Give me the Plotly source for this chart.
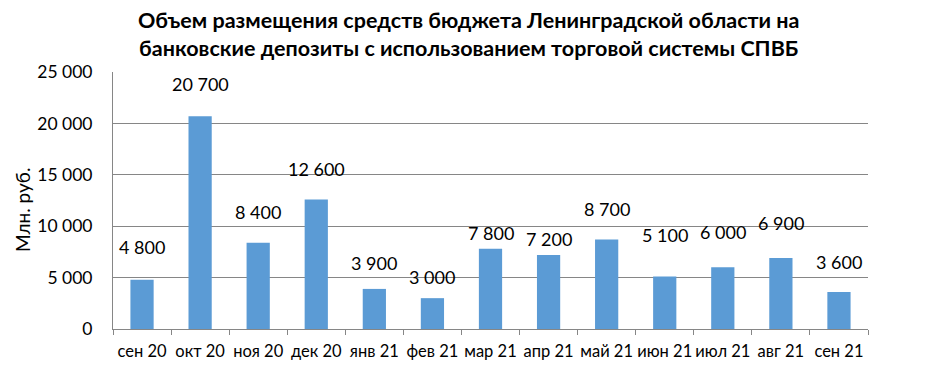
import plotly.graph_objects as go

categories = ["сен 20", "окт 20", "ноя 20", "дек 20", "янв 21", "фев 21", "мар 21",
              "апр 21", "май 21", "июн 21", "июл 21", "авг 21", "сен 21"]
values = [4800, 20700, 8400, 12600, 3900, 3000, 7800, 7200, 8700, 5100, 6000, 6900, 3600]
label_texts = ["4 800", "20 700", "8 400", "12 600", "3 900", "3 000", "7 800",
               "7 200", "8 700", "5 100", "6 000", "6 900", "3 600"]
tick_vals = [0, 5000, 10000, 15000, 20000, 25000]
tick_text = ["0", "5 000", "10 000", "15 000", "20 000", "25 000"]

# pixel offsets of the manually placed data labels above the bars
label_shift = [33, 32, 31, 30, 26, 21, 16, 16, 31, 42, 35, 35, 30]

FONT = "Lato, Carlito, Calibri, sans-serif"

fig = go.Figure()
fig.add_trace(go.Bar(x=categories, y=values, marker_color="#5B9BD5",
                     marker_line_width=0, width=0.4))

for c, v, t, s in zip(categories, values, label_texts, label_shift):
    fig.add_annotation(x=c, y=v, text=t, showarrow=False, yshift=s,
                       font=dict(family=FONT, size=18, color="#000000"))

# y-axis title (placed like the reference, slightly below the plot centre)
fig.add_annotation(text="Млн. руб.", xref="paper", yref="paper", x=-0.1205, y=0.463,
                   textangle=-90, showarrow=False, xanchor="center", yanchor="middle",
                   font=dict(family=FONT, size=19, color="#000000"))

fig.update_layout(
    width=930, height=373,
    margin=dict(l=113, r=62, t=72, b=44),
    paper_bgcolor="white", plot_bgcolor="white",
    showlegend=False,
    title=dict(text="<b>Объем размещения средств бюджета Ленинградской области на<br>банковские депозиты с использованием торговой системы СПВБ</b>",
               x=0.504, xanchor="center", xref="container", y=0.925, yanchor="middle", yref="container",
               font=dict(family=FONT, size=21.5, color="#000000")),
    xaxis=dict(type="category", showline=True, linecolor="#868686", linewidth=1,
               ticks="outside", tickson="boundaries", ticklen=5, tickcolor="#868686",
               tickangle=0, ticklabelstandoff=7,
               tickfont=dict(family=FONT, size=16.5, color="#000000"), showgrid=False),
    yaxis=dict(range=[0, 25000], tickvals=tick_vals, ticktext=tick_text,
               showline=True, linecolor="#868686", linewidth=1,
               showgrid=True, gridcolor="#868686", gridwidth=1, zeroline=False,
               ticks="outside", ticklen=16, tickcolor="rgba(0,0,0,0)",
               tickfont=dict(family=FONT, size=17.5, color="#000000")),
)

fig.write_html("out.html", post_script="document.body.style.margin='0px';",
               config={"displayModeBar": False})
